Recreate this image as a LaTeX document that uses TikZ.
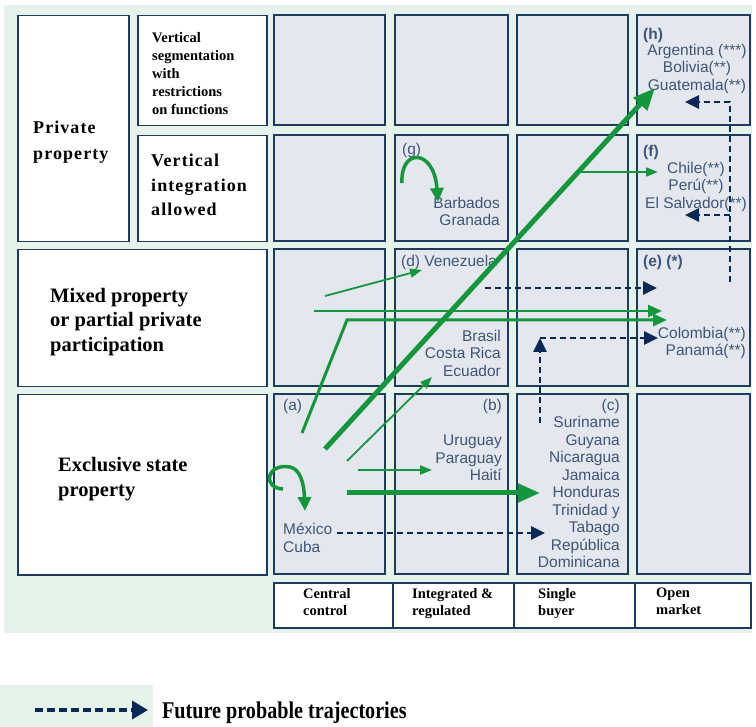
\documentclass[tikz,border=0pt]{standalone}
\usepackage{fontspec}
\setmainfont{Liberation Serif}
\newfontfamily\cellfont{Liberation Sans}
\newfontfamily\spacedfont[LetterSpace=6]{Liberation Serif}
\usetikzlibrary{arrows.meta}

\definecolor{bgGreen}{HTML}{E6F3EB}
\definecolor{cellGray}{HTML}{E4E8EE}
\definecolor{frameBlue}{HTML}{1E3A5F}
\definecolor{inkBlue}{HTML}{3E5578}
\definecolor{flowGreen}{HTML}{14963C}
\definecolor{futureNavy}{HTML}{0A2855}

\begin{document}
\begin{tikzpicture}[
		x=1pt, y=-1pt,
		% Boxes of the grid
		cell/.style={draw=frameBlue, line width=1.5pt, fill=cellGray, inner sep=0pt},
		label box/.style={draw=frameBlue, line width=1.5pt, fill=white, inner sep=0pt, anchor=north west},
		% Texts
		row text/.style={font=\bfseries, align=left, anchor=north west, inner sep=0pt},
		col text/.style={font=\bfseries\fontsize{14.5}{17}\selectfont, align=left, anchor=north west, inner sep=0pt},
		country/.style={font=\cellfont\fontsize{15.5}{17.5}\selectfont, text=inkBlue, inner sep=0pt},
		tag/.style={country, anchor=north west},
		% Trajectories
		flow/.style={draw=flowGreen, line width=1.8pt, -{Triangle[length=12pt,width=9pt]}},
		flow-mid/.style={flow, -{Triangle[length=14pt,width=12pt]}},
		flow-thick/.style={flow, line width=5pt, -{Triangle[length=22pt,width=18pt]}},
		future/.style={draw=futureNavy, line width=2.6pt, dash pattern=on 6pt off 4pt, -{Triangle[length=14pt,width=13pt]}}
		]
		\useasboundingbox (0,0) rectangle (756,727);
		\fill[bgGreen] (4,5) rectangle (752,633);
		
		% GRID OF CELLS
		\foreach \c/\x/\w in {1/274/111, 2/395/113, 3/517/111, 4/637/113}{
			\foreach \r/\y/\h in {1/15/110, 2/135/106, 3/249/137, 4/394/180}{
				\node[cell, minimum width=\w*1pt, minimum height=\h*1pt] (cell-\c-\r) at (\x+\w/2, \y+\h/2) {};
			}
		}
		
		% ROW LABELS
		\node[label box, minimum width=111pt, minimum height=226pt] (box-private) at (17,15) {};
		\node[label box, minimum width=129pt, minimum height=110pt] (box-segment) at (137,15) {};
		\node[label box, minimum width=129pt, minimum height=106pt] (box-integr) at (137,135) {};
		\node[label box, minimum width=249pt, minimum height=137pt] (box-mixed) at (17,249) {};
		\node[label box, minimum width=249pt, minimum height=180pt] (box-state) at (17,394) {};
		
		\node[row text, font=\spacedfont\bfseries\fontsize{18}{26}\selectfont] (txt-private) at (33,121) {Private\\property};
		\node[row text, font=\bfseries\fontsize{14.5}{18}\selectfont] (txt-segment) at (152,32) {Vertical\\segmentation\\with\\restrictions\\on functions};
		\node[row text, font=\spacedfont\bfseries\fontsize{18}{24.5}\selectfont] (txt-integr) at (151,154) {Vertical\\integration\\allowed};
		\node[row text, font=\bfseries\fontsize{20.5}{24.5}\selectfont] (txt-mixed) at (50,288) {Mixed property\\or partial private\\participation};
		\node[row text, font=\bfseries\fontsize{20.5}{25}\selectfont] (txt-state) at (58,457) {Exclusive state\\property};
		
		% COLUMN LABELS
		\foreach \n/\x/\w in {central/273/119, integrated/392/121, single/513/121, open/634/116}{
			\node[label box, minimum width=\w*1pt, minimum height=45pt] (box-\n) at (\x,582) {};
		}
		\node[col text] (txt-central) at (303,588) {Central\\control};
		\node[col text] (txt-integrated) at (412,588) {Integrated \&\\regulated};
		\node[col text] (txt-single) at (538,588) {Single\\buyer};
		\node[col text] (txt-open) at (656,588) {Open\\market};
		
		% COUNTRIES
		\node[tag, font=\cellfont\bfseries\fontsize{15.5}{17.5}\selectfont] (tag-h) at (643,28) {(h)};
		\node[country, align=center, anchor=north] (ctry-h) at (697,44) {Argentina (***)\\Bolivia(**)\\Guatemala(**)};
		\node[tag] (tag-g) at (402,143) {(g)};
		\node[country, align=right, anchor=north east] (ctry-g) at (500,197) {Barbados\\Granada};
		\node[tag, font=\cellfont\bfseries\fontsize{15.5}{17.5}\selectfont] (tag-f) at (643,145) {(f)};
		\node[country, align=center, anchor=north] (ctry-f) at (696,162) {Chile(**)\\Perú(**)\\El Salvador(**)};
		\node[tag] (tag-d) at (401,255) {(d) Venezuela};
		\node[tag, font=\cellfont\bfseries\fontsize{15.5}{17.5}\selectfont] (tag-e) at (643,255) {(e) (*)};
		\node[country, align=right, anchor=north east] (ctry-d) at (501,330) {Brasil\\Costa Rica\\Ecuador};
		\node[country, align=right, anchor=north east] (ctry-e) at (746,327) {Colombia(**)\\Panamá(**)};
		\node[tag] (tag-a) at (283,399) {(a)};
		\node[country, align=left, anchor=north west] (ctry-a) at (283,523) {México\\Cuba};
		\node[country, anchor=north east] (tag-b) at (502,399) {(b)};
		\node[country, align=right, anchor=north east] (ctry-b) at (502,435) {Uruguay\\Paraguay\\Haití};
		\node[country, align=right, anchor=north east] (ctry-c) at (620,399) {(c)\\Suriname\\Guyana\\Nicaragua\\Jamaica\\Honduras\\Trinidad y\\Tabago\\República\\Dominicana};
		
		% PAST TRAJECTORIES
		\coordinate (a-loop) at (283,489);
		\coordinate (a-self) at (305,511);
		\coordinate (a-start) at (325,449);
		\coordinate (h-end) at (655,88);
		\coordinate (f-branch) at (578,172);
		\coordinate (f-end) at (658,172);
		\coordinate (a-low) at (302,433);
		\coordinate (a-bend) at (347,320);
		\coordinate (e-low) at (667,320);
		\coordinate (a-mid) at (314,311);
		\coordinate (e-up) at (662,311);
		\coordinate (a-top) at (325,296);
		\coordinate (d-end) at (422,270);
		\coordinate (a-diag) at (347,461);
		\coordinate (d-low) at (432,377);
		\coordinate (a-right) at (358,470);
		\coordinate (b-end) at (432,470);
		\coordinate (a-thick) at (347,493);
		\coordinate (c-end) at (540,493);
		\coordinate (g-loop) at (402,183);
		\coordinate (g-self) at (438,202);
		
		\draw[flow, line width=3.5pt, -{Triangle[length=14pt,width=13pt]}] (a-loop) .. controls (262,488) and (266,463) .. (290,467) .. controls (300,469) and (304,483) .. (a-self);
		\draw[flow, line width=3.5pt, -{Triangle[length=14pt,width=13pt]}] (g-loop) .. controls (400,148) and (434,148) .. (g-self);
		\draw[flow-thick] (a-start) -- (h-end);
		\draw[flow] (f-branch) -- (f-end);
		\draw[flow-mid, line width=3pt] (a-low) -- (a-bend) -- (e-low);
		\draw[flow-mid, line width=2.5pt] (a-mid) -- (e-up);
		\draw[flow] (a-top) -- (d-end);
		\draw[flow] (a-diag) -- (d-low);
		\draw[flow, line width=2.2pt] (a-right) -- (b-end);
		\draw[flow-thick] (a-thick) -- (c-end);
		
		% FUTURE TRAJECTORIES
		\coordinate (mx-out) at (337,533);
		\coordinate (c-in) at (545,533);
		\coordinate (c-up) at (540,423);
		\coordinate (c-top) at (540,338);
		\coordinate (e-in) at (658,338);
		\coordinate (d-out) at (485,288);
		\coordinate (e-top) at (657,288);
		\coordinate (e-col) at (730,282);
		\coordinate (h-col) at (730,102);
		\coordinate (h-in) at (685,102);
		\coordinate (f-col) at (730,215);
		\coordinate (f-in) at (685,215);
		
		\draw[future] (mx-out) -- (c-in);
		\draw[future] (c-up) -- (c-top);
		\draw[future] (c-top) -- (e-in);
		\draw[future] (d-out) -- (e-top);
		\draw[future] (e-col) -- (h-col) -- (h-in);
		\draw[future] (f-col) -- (f-in);
		
		% KEY
		\fill[bgGreen] (0,685) rectangle (153,727);
		\coordinate (key-s) at (35,710);
		\coordinate (key-e) at (148,710);
		\draw[future, line width=3.5pt, dash pattern=on 8pt off 4pt, -{Triangle[length=16pt,width=18pt]}] (key-s) -- (key-e);
		\node[row text, font=\bfseries\fontsize{24}{28}\selectfont, xscale=0.84] (key-text) at (162,702) {Future probable trajectories};
	\end{tikzpicture}
\end{document}
